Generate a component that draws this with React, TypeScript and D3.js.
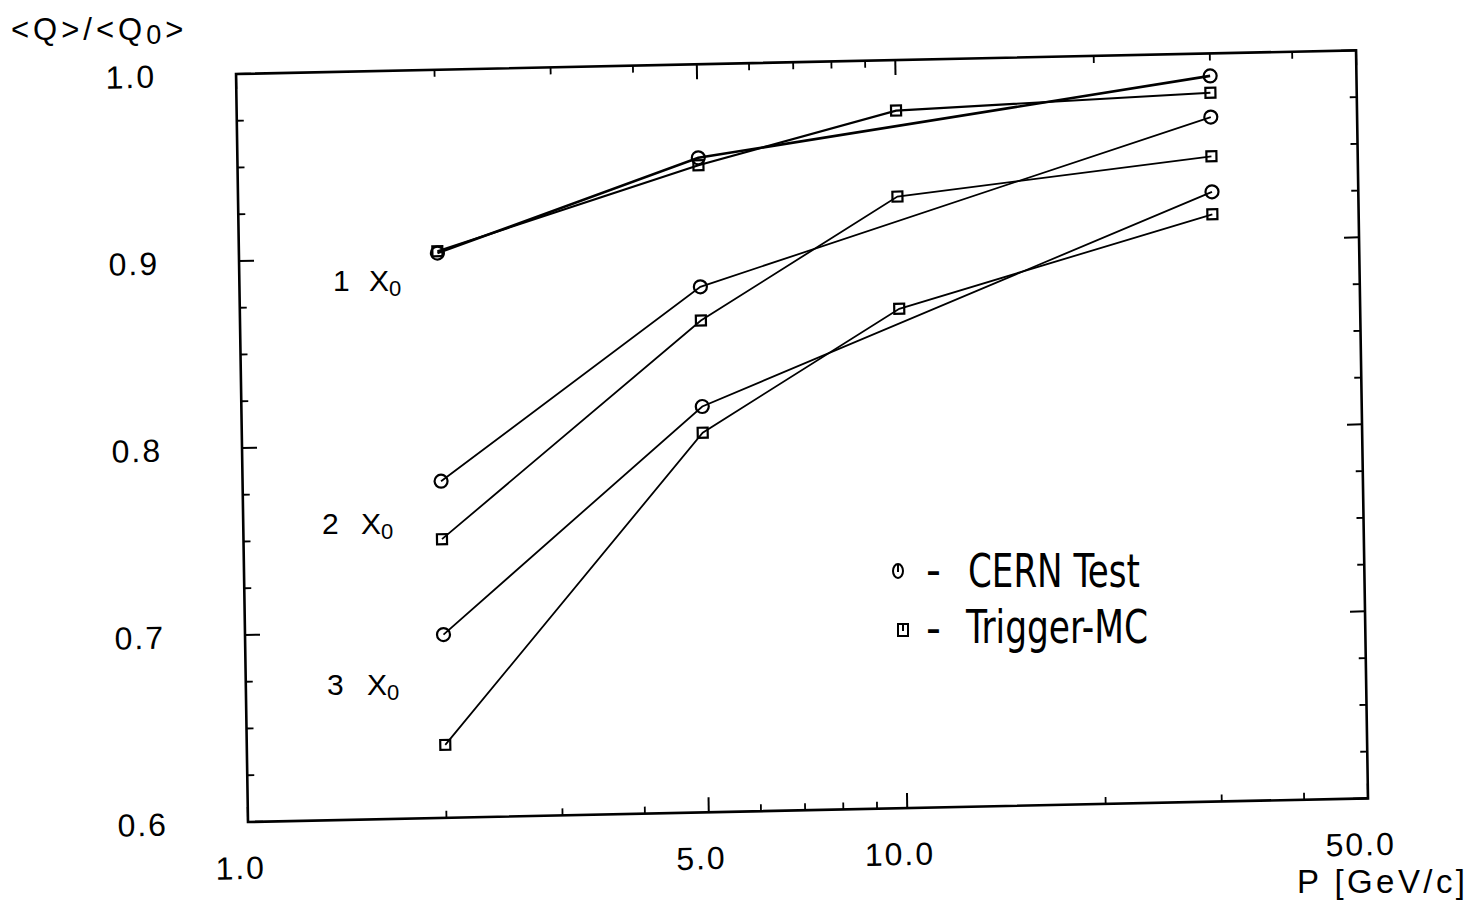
import React from 'react';
import * as d3 from 'd3';

// ---- data ----
const momentaCERN = [2, 5, 30];
const momentaMC = [2, 5, 10, 30];
const cern1X0 = [0.902, 0.95, 0.988];
const mc1X0 = [0.903, 0.946, 0.973, 0.979];
const cern2X0 = [0.78, 0.881, 0.966];
const mc2X0 = [0.749, 0.863, 0.927, 0.945];
const cern3X0 = [0.698, 0.817, 0.926];
const mc3X0 = [0.639, 0.803, 0.867, 0.914];

const xMajorTicks = [1, 5, 10, 50];
const xMinorTicks = [2, 3, 4, 6, 7, 8, 9, 20, 30, 40];
const yMajorTicks = [0.6, 0.7, 0.8, 0.9, 1.0];
const thicknessLabels = ['1', '2', '3'];

const W = 1474;
const H = 922;
const L = 248, R = 1368, T = 74, B = 822;

const FONT = "'Liberation Sans', Arial, Helvetica, sans-serif";
const NARROW = "'Liberation Sans Narrow', 'DejaVu Sans Condensed', 'Liberation Sans', sans-serif";

export default function App() {
  const x = d3.scaleLog().domain([1, 50]).range([L, R]);
  const y = d3.scaleLinear().domain([0.6, 1.0]).range([B, T]);

  const yMinor = d3.range(0, 17).map((i) => 0.6 + i * 0.025).filter((v) => Math.abs(v * 10 - Math.round(v * 10)) > 1e-6);

  const line = d3
    .line<[number, number]>()
    .x((d) => x(d[0]))
    .y((d) => y(d[1]));

  const series = [
    { xs: momentaCERN, ys: cern1X0, kind: 'circle', w: 2.6 },
    { xs: momentaMC, ys: mc1X0, kind: 'square', w: 2.2 },
    { xs: momentaCERN, ys: cern2X0, kind: 'circle', w: 1.8 },
    { xs: momentaMC, ys: mc2X0, kind: 'square', w: 1.8 },
    { xs: momentaCERN, ys: cern3X0, kind: 'circle', w: 1.8 },
    { xs: momentaMC, ys: mc3X0, kind: 'square', w: 1.8 },
  ];

  const transform = `translate(${L},${B}) matrix(1,-0.0211,0.016,1,0,0) translate(${-L},${-B})`;

  const labelPos = [
    { x: 333, y: 291, subX: 369 },
    { x: 322, y: 534, subX: 361 },
    { x: 327, y: 695, subX: 367 },
  ];

  return (
    <svg width={W} height={H} style={{ position: 'absolute', left: 0, top: 0, background: '#fff' }}>
      <rect x={0} y={0} width={W} height={H} fill="#fff" />
      <g transform={transform}>
        {/* frame */}
        <rect x={L} y={T} width={R - L} height={B - T} fill="none" stroke="#000" strokeWidth={2.6} />
        {/* y ticks */}
        {yMajorTicks.map((v) => (
          <g key={'ym' + v}>
            <line x1={L} x2={L + 15} y1={y(v)} y2={y(v)} stroke="#000" strokeWidth={2} />
            <line x1={R} x2={R - 15} y1={y(v)} y2={y(v)} stroke="#000" strokeWidth={2} />
            <text
              x={L - 80}
              y={y(v) + 12}
              textAnchor="end"
              fontFamily={FONT}
              fontSize={32}
              letterSpacing={2}
              fill="#000"
            >
              {v.toFixed(1)}
            </text>
          </g>
        ))}
        {yMinor.map((v) => (
          <g key={'yn' + v}>
            <line x1={L} x2={L + 7} y1={y(v)} y2={y(v)} stroke="#000" strokeWidth={1.8} />
            <line x1={R} x2={R - 7} y1={y(v)} y2={y(v)} stroke="#000" strokeWidth={1.8} />
          </g>
        ))}
        {/* x ticks */}
        {xMajorTicks.map((v) => (
          <g key={'xm' + v}>
            <line x1={x(v)} x2={x(v)} y1={B} y2={B - 15} stroke="#000" strokeWidth={2} />
            <line x1={x(v)} x2={x(v)} y1={T} y2={T + 15} stroke="#000" strokeWidth={2} />
            <text
              x={x(v) - 8}
              y={B + 57}
              textAnchor="middle"
              fontFamily={FONT}
              fontSize={32}
              letterSpacing={2}
              fill="#000"
            >
              {v.toFixed(1)}
            </text>
          </g>
        ))}
        {xMinorTicks.map((v) => (
          <g key={'xn' + v}>
            <line x1={x(v)} x2={x(v)} y1={B} y2={B - 7} stroke="#000" strokeWidth={1.8} />
            <line x1={x(v)} x2={x(v)} y1={T} y2={T + 7} stroke="#000" strokeWidth={1.8} />
          </g>
        ))}
        {/* data */}
        {series.map((s, i) => {
          const pts = s.xs.map((xv, j) => [xv, s.ys[j]] as [number, number]);
          return (
            <g key={'s' + i}>
              <path d={line(pts) || ''} fill="none" stroke="#000" strokeWidth={s.w} />
              {pts.map((p, j) =>
                s.kind === 'circle' ? (
                  <circle key={j} cx={x(p[0])} cy={y(p[1])} r={6.5} fill="none" stroke="#000" strokeWidth={2.2} />
                ) : (
                  <rect
                    key={j}
                    x={x(p[0]) - 5}
                    y={y(p[1]) - 5}
                    width={10}
                    height={10}
                    fill="none"
                    stroke="#000"
                    strokeWidth={2.2}
                  />
                )
              )}
            </g>
          );
        })}
      </g>

      {/* y axis title */}
      <text x={11} y={40} fontFamily={FONT} fontSize={31} letterSpacing={4} fill="#000">
        {'<Q>/<Q'}
        <tspan fontSize={27} dy={4}>0</tspan>
        <tspan dy={-4}>{'>'}</tspan>
      </text>
      {/* x axis title */}
      <text x={1297} y={893} fontFamily={FONT} fontSize={33} textLength={168} lengthAdjust="spacing" fill="#000">
        P [GeV/c]
      </text>

      {/* thickness labels */}
      {thicknessLabels.map((t, i) => (
        <text key={t} x={labelPos[i].x} y={labelPos[i].y} fontFamily={FONT} fontSize={30} fill="#000">
          {t}
          <tspan x={labelPos[i].subX}>X</tspan>
          <tspan fontSize={22} dy={5}>0</tspan>
        </text>
      ))}

      {/* legend */}
      <g>
        <ellipse cx={898} cy={571} rx={5} ry={7} fill="none" stroke="#000" strokeWidth={2} />
        <line x1={898} x2={898} y1={565} y2={572} stroke="#000" strokeWidth={2} />
        <text x={926} y={586} fontFamily={NARROW} fontSize={46} fill="#000">-</text>
        <text x={968} y={587} fontFamily={NARROW} fontSize={46} textLength={172} lengthAdjust="spacingAndGlyphs" fill="#000">
          CERN Test
        </text>
        <rect x={898} y={624} width={10} height={12} fill="none" stroke="#000" strokeWidth={2} />
        <line x1={903} x2={903} y1={624} y2={631} stroke="#000" strokeWidth={2} />
        <text x={926} y={644} fontFamily={NARROW} fontSize={46} fill="#000">-</text>
        <text x={966} y={643} fontFamily={NARROW} fontSize={46} textLength={182} lengthAdjust="spacingAndGlyphs" fill="#000">
          Trigger-MC
        </text>
      </g>
    </svg>
  );
}
